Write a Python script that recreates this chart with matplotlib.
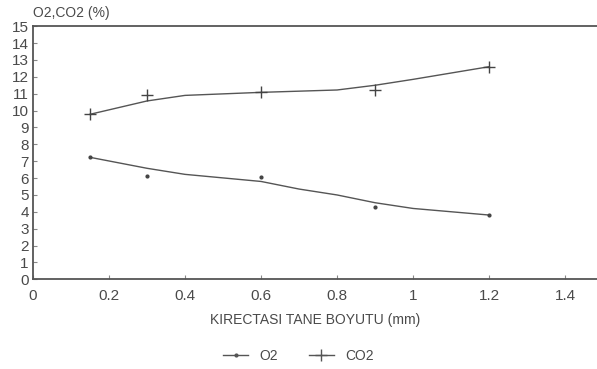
import matplotlib.pyplot as plt
from matplotlib.lines import Line2D

# grain size (mm)
size_mm = [0.15, 0.3, 0.6, 0.9, 1.2]
o2 = [7.23, 6.14, 6.05, 4.27, 3.81]
co2 = [9.78, 10.92, 11.08, 11.22, 12.6]

# hand-drawn trend curves
trend_x = [0.15, 0.3, 0.4, 0.6, 0.7, 0.8, 0.9, 1.0, 1.2]
o2_trend = [7.23, 6.58, 6.22, 5.8, 5.35, 5.0, 4.54, 4.2, 3.81]
co2_trend = [9.78, 10.57, 10.9, 11.08, 11.15, 11.22, 11.5, 11.85, 12.6]

x_ticks = [0, 0.2, 0.4, 0.6, 0.8, 1.0, 1.2, 1.4]
x_labels = ["0", "0.2", "0.4", "0.6", "0.8", "1", "1.2", "1.4"]


def main():
    plt.rcParams['font.family'] = ['Liberation Sans', 'DejaVu Sans']
    fig = plt.figure(figsize=(5.97, 3.69), dpi=100)
    ax = fig.add_axes([0.0553, 0.243, 0.9447, 0.686])
    gray = "#4a4a4a"

    for vals, trend, mk, ms in [(o2, o2_trend, ".", 4),
                                (co2, co2_trend, "+", 8)]:
        ax.plot(trend_x, trend, color="#555555", lw=1)
        ax.plot(size_mm, vals, ls="none", marker=mk, ms=ms, color="#444444",
                mew=1)

    ax.set_xlim(0, 1.484)
    ax.set_ylim(0, 15)
    ax.set_yticks(range(16))
    ax.set_xticks(x_ticks, x_labels)
    ax.tick_params(direction="in", length=3, colors="#888888", labelcolor=gray,
                   labelsize=11)
    ax.tick_params(axis="x", pad=7)
    ax.tick_params(axis="y", pad=3)
    for s in ["left", "bottom", "top"]:
        ax.spines[s].set_color("#555555")
        ax.spines[s].set_linewidth(1.3)
    ax.spines["right"].set_visible(False)

    fig.text(0.055, 0.965, "O2,CO2 (%)", color=gray, fontsize=10,
             ha="left", va="center")
    ax.set_xlabel("KIRECTASI TANE BOYUTU (mm)", color=gray, fontsize=10,
                  labelpad=7)

    handles = [Line2D([], [], color="#555555", marker=".", ms=4, lw=1),
               Line2D([], [], color="#555555", marker="+", ms=8, lw=1)]
    fig.legend(handles, ["O2", "CO2"], loc="center", ncol=2,
               bbox_to_anchor=(0.5, 0.035), frameon=False, fontsize=10,
               labelcolor=gray, handlelength=1.8, columnspacing=2.2)

    fig.savefig("out.png", dpi=100)


if __name__ == "__main__":
    main()
